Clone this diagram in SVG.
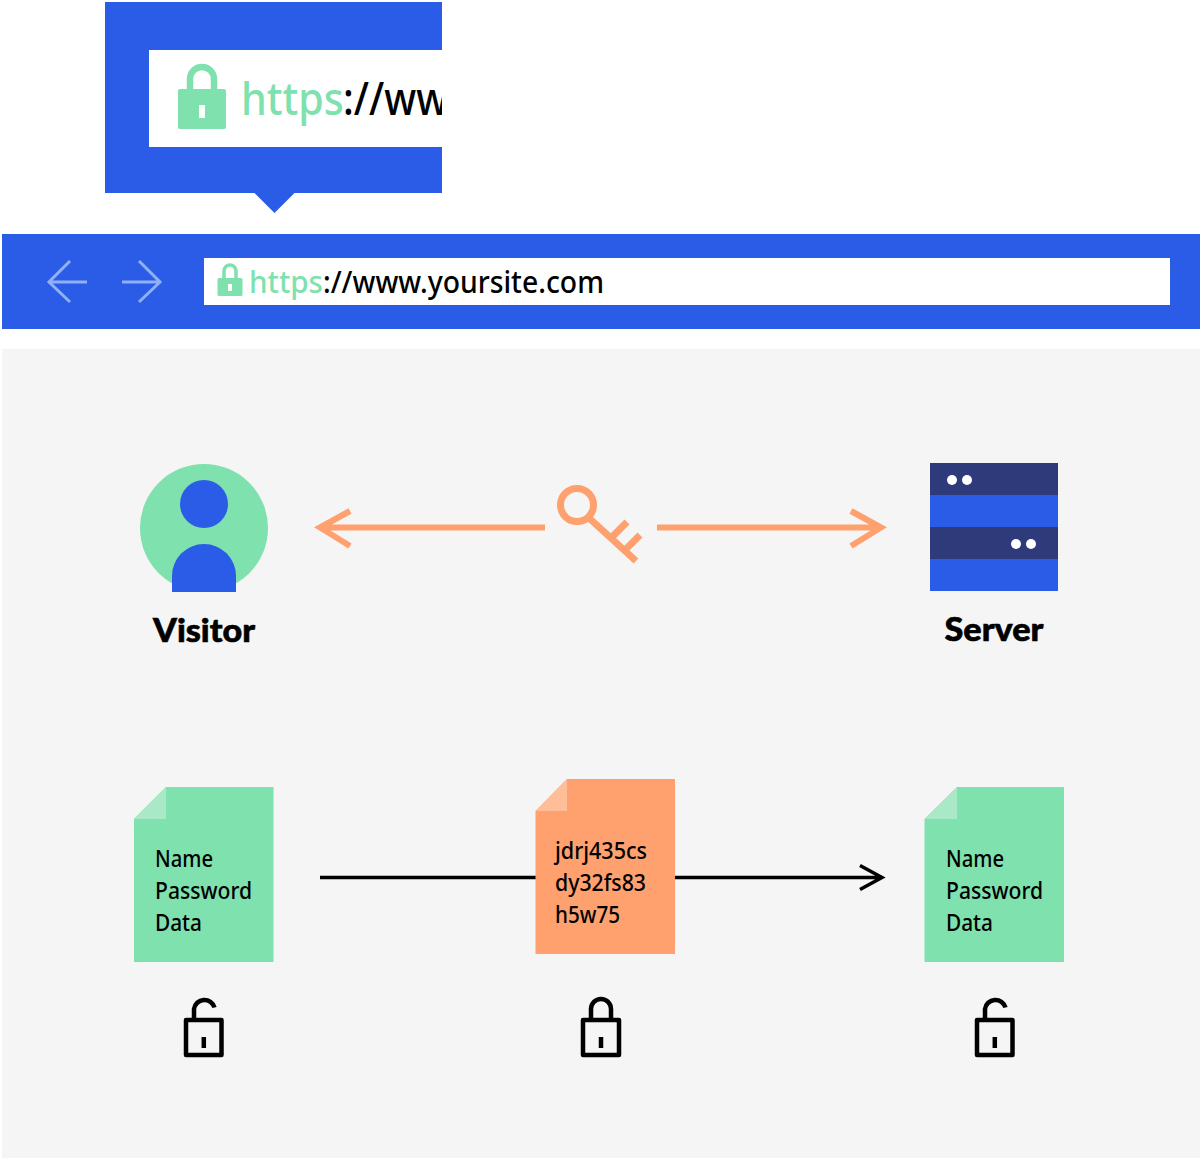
<svg xmlns="http://www.w3.org/2000/svg" width="1200" height="1158" viewBox="0 0 1200 1158">
<style>
.blue{fill:#2b5ce7}.green{fill:#7fe1ad}.orange{fill:#ffa06f}.white{fill:#fff}.dark{fill:#2f3a7b}
text{font-family:"Lato","Liberation Sans",sans-serif}
.doc{font-size:23px;font-weight:500;fill:#000;font-family:"Noto Sans","Liberation Sans",sans-serif}
.label{font-size:33px;font-weight:900;fill:#000;stroke:#000;stroke-width:.6;text-anchor:middle}
.url{font-family:"Noto Sans","Liberation Sans",sans-serif;font-weight:500}
.ln{fill:none;stroke-linecap:butt;stroke-linejoin:miter}
.k{stroke:#000;stroke-width:3.5}.o{stroke:#ffa06f;stroke-width:6}
.nav{fill:none;stroke:#8fb0f5;stroke-width:3}
.lk{fill:none;stroke:#000;stroke-width:4.500;stroke-linejoin:round}
</style>
<defs>
<clipPath id="cp"><rect x="149" y="50" width="293" height="97"/></clipPath>
<g id="openlock"><rect class="lk" x="186" y="1020" width="35.5" height="35"/><path class="lk" d="M194,1020V1009A10.5,10.5 0 0 1 214.5,1007.5"/><path class="lk" d="M203.8,1037V1048"/></g>
</defs>
<g id="callout">
<path class="blue" d="M105,2H442V193H294.500L274.500,213L254.500,193H105Z"/>
<rect class="white" x="149" y="50" width="293" height="97"/>
<path class="green" d="M180,89H224a2,2 0 0 1 2,2V127a2,2 0 0 1 -2,2H180a2,2 0 0 1 -2,-2V91a2,2 0 0 1 2,-2Z"/>
<path fill="none" stroke="#7fe1ad" stroke-width="6.500" d="M190,90V79A12,12 0 0 1 214,79V90"/>
<rect class="white" x="199" y="105" width="6" height="13"/>
<g clip-path="url(#cp)">
<text class="url green" font-size="46" transform="translate(241,115) scale(.895,1)">https</text>
<text class="url" fill="#000" font-size="46" font-weight="600" transform="translate(343,115) scale(.86,1)">://www.yoursite.com</text>
</g>
</g>
<g id="browser-bar">
<rect class="blue" x="2" y="234" width="1198" height="95"/>
<rect class="white" x="204" y="258" width="966" height="47"/>
<path class="nav" d="M87,282H49M70,261L49,282L70,302"/>
<path class="nav" d="M122,282H160M139,261L160,282L139,302"/>
<path class="green" d="M219,278H241a1.500,1.500 0 0 1 1.500,1.500V294.500a1.500,1.500 0 0 1 -1.500,1.500H219a1.500,1.500 0 0 1 -1.500,-1.500V279.500a1.500,1.500 0 0 1 1.500,-1.500Z"/>
<path fill="none" stroke="#7fe1ad" stroke-width="3.500" d="M224,279V271A6,6 0 0 1 236,271V279"/>
<rect class="white" x="228" y="284" width="4" height="7"/>
<text class="url green" x="249" y="293" font-size="30" textLength="74" lengthAdjust="spacingAndGlyphs">https</text>
<text class="url" fill="#000" x="323" y="293" font-size="30" textLength="281" lengthAdjust="spacingAndGlyphs">://www.yoursite.com</text>
</g>
<rect id="panel" x="2" y="349" width="1198" height="809" fill="#f5f5f5"/>
<g id="visitor">
<circle class="green" cx="204" cy="528" r="64"/>
<circle class="blue" cx="204" cy="504" r="24"/>
<path class="blue" d="M172,592V576A32,32 0 0 1 236,576V592Z"/>
<text class="label" x="204" y="642" textLength="102" lengthAdjust="spacingAndGlyphs">Visitor</text>
</g>
<g id="server">
<rect class="dark" x="930" y="463" width="128" height="32"/>
<rect class="blue" x="930" y="495" width="128" height="32"/>
<rect class="dark" x="930" y="527" width="128" height="32"/>
<rect class="blue" x="930" y="559" width="128" height="32"/>
<circle class="white" cx="952" cy="480" r="5"/><circle class="white" cx="967" cy="480" r="5"/>
<circle class="white" cx="1016" cy="544" r="5"/><circle class="white" cx="1031" cy="544" r="5"/>
<text class="label" x="994" y="641" textLength="99" lengthAdjust="spacingAndGlyphs">Server</text>
</g>
<g id="connectors">
<path class="ln o" d="M545,527.500H320M350,511L320,527.500L350,546"/>
<path class="ln o" d="M657,527.500H882M851,511L881,527.500L851,546"/>
<path class="ln k" d="M320,877.500H536M675,877.500H882M860,865.500L882,877.500L860,889.500"/>
</g>
<g id="key">
<circle cx="577" cy="505" r="16.500" fill="none" stroke="#ffa06f" stroke-width="7"/>
<path class="ln o" style="stroke-width:7" d="M589,518L636,561M612,537L627,522M625,550L640,535"/>
</g>
<g id="doc-left">
<path class="green" d="M166,787H273.500V962H134V819Z"/>
<path fill="#a9e9c8" d="M166,787V819H134Z"/>
<text class="doc" x="155" y="867" textLength="58" lengthAdjust="spacingAndGlyphs">Name</text><text class="doc" x="155" y="899" textLength="97" lengthAdjust="spacingAndGlyphs">Password</text><text class="doc" x="155" y="931" textLength="47" lengthAdjust="spacingAndGlyphs">Data</text>
</g>
<g id="doc-middle">
<path class="orange" d="M567,779H675V954H535.500V811Z"/>
<path fill="#ffbd9a" d="M567,779V811H535.500Z"/>
<text class="doc" x="555" y="859" textLength="92" lengthAdjust="spacingAndGlyphs">jdrj435cs</text><text class="doc" x="555" y="891" textLength="91" lengthAdjust="spacingAndGlyphs">dy32fs83</text><text class="doc" x="555" y="923" textLength="65" lengthAdjust="spacingAndGlyphs">h5w75</text>
</g>
<g id="doc-right">
<path class="green" d="M957,787H1064V962H924.500V819Z"/>
<path fill="#a9e9c8" d="M957,787V819H924.500Z"/>
<text class="doc" x="946" y="867" textLength="58" lengthAdjust="spacingAndGlyphs">Name</text><text class="doc" x="946" y="899" textLength="97" lengthAdjust="spacingAndGlyphs">Password</text><text class="doc" x="946" y="931" textLength="47" lengthAdjust="spacingAndGlyphs">Data</text>
</g>
<g id="lock-left"><use href="#openlock"/></g>
<g id="lock-middle">
<rect class="lk" x="583" y="1020" width="36" height="35"/><path class="lk" d="M591,1020V1009A10,10 0 0 1 611,1009V1020"/><path class="lk" d="M601,1037V1048"/>
</g>
<g id="lock-right"><use href="#openlock" x="791"/></g>
</svg>
